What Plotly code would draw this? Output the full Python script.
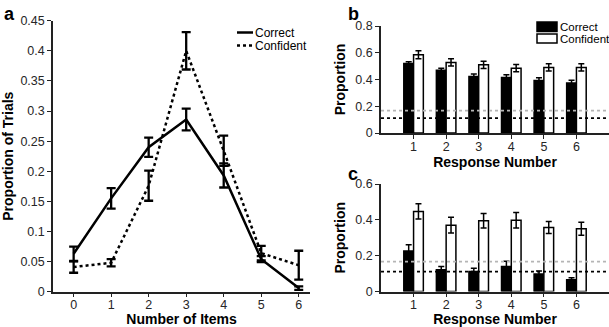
import plotly.graph_objects as go

W, H = 609, 327

# ---- Panel a data ----
n_items = [0, 1, 2, 3, 4, 5, 6]
a_correct = [0.063, 0.155, 0.240, 0.286, 0.193, 0.054, 0.006]
a_correct_err = [0.012, 0.017, 0.016, 0.018, 0.020, 0.005, 0.003]
a_confident = [0.041, 0.048, 0.176, 0.400, 0.234, 0.064, 0.044]
a_confident_err = [0.0095, 0.006, 0.025, 0.031, 0.025, 0.012, 0.024]
a_yticks = [0, 0.05, 0.1, 0.15, 0.2, 0.25, 0.3, 0.35, 0.4, 0.45]
a_yticklabels = ["0", "0.05", "0.1", "0.15", "0.2", "0.25", "0.3", "0.35", "0.4", "0.45"]

# ---- Panel b data ----
resp_num = [1, 2, 3, 4, 5, 6]
b_correct = [0.520, 0.470, 0.422, 0.415, 0.393, 0.374]
b_correct_err = [0.013, 0.014, 0.020, 0.020, 0.020, 0.020]
b_confident = [0.585, 0.528, 0.510, 0.485, 0.490, 0.490]
b_confident_err = [0.030, 0.028, 0.027, 0.027, 0.027, 0.027]
b_yticks = [0, 0.2, 0.4, 0.6, 0.8]
b_yticklabels = ["0", "0.2", "0.4", "0.6", "0.8"]

# ---- Panel c data ----
c_correct = [0.226, 0.121, 0.112, 0.139, 0.098, 0.065]
c_correct_err = [0.035, 0.019, 0.018, 0.030, 0.016, 0.012]
c_confident = [0.447, 0.370, 0.395, 0.398, 0.357, 0.350]
c_confident_err = [0.043, 0.044, 0.040, 0.043, 0.033, 0.036]
c_yticks = [0, 0.2, 0.4, 0.6]
c_yticklabels = ["0", "0.2", "0.4", "0.6"]

# chance levels (dotted reference lines)
chance_gray = 1 / 6
chance_black = 1 / 9

FONT = "Liberation Sans, Arial, sans-serif"
TICKC = "#262626"


def px(x):
    return x / W


def py(y):
    return 1 - y / H


fig = go.Figure()

# Panel a
fig.add_trace(go.Scatter(
    x=n_items, y=a_correct, mode="lines", xaxis="x", yaxis="y",
    line=dict(color="black", width=2.5),
    error_y=dict(type="data", array=a_correct_err, color="black", thickness=2.3, width=4.5),
    showlegend=False))
fig.add_trace(go.Scatter(
    x=n_items, y=a_confident, mode="lines", xaxis="x", yaxis="y",
    line=dict(color="black", width=2.5, dash="dot"),
    error_y=dict(type="data", array=a_confident_err, color="black", thickness=2.3, width=4.5),
    showlegend=False))

# Panel b
fig.add_trace(go.Bar(
    x=resp_num, y=b_correct, xaxis="x2", yaxis="y2",
    marker=dict(color="black", line=dict(color="black", width=1.5)),
    error_y=dict(type="data", array=b_correct_err, color="black", thickness=1.5, width=3),
    showlegend=False))
fig.add_trace(go.Bar(
    x=resp_num, y=b_confident, xaxis="x2", yaxis="y2",
    marker=dict(color="white", line=dict(color="black", width=1.5)),
    error_y=dict(type="data", array=b_confident_err, color="black", thickness=1.5, width=3),
    showlegend=False))

# Panel c
fig.add_trace(go.Bar(
    x=resp_num, y=c_correct, xaxis="x3", yaxis="y3",
    marker=dict(color="black", line=dict(color="black", width=1.5)),
    error_y=dict(type="data", array=c_correct_err, color="black", thickness=1.5, width=3),
    showlegend=False))
fig.add_trace(go.Bar(
    x=resp_num, y=c_confident, xaxis="x3", yaxis="y3",
    marker=dict(color="white", line=dict(color="black", width=1.5)),
    error_y=dict(type="data", array=c_confident_err, color="black", thickness=1.5, width=3),
    showlegend=False))

axis_common = dict(
    showline=True, linecolor="#222", linewidth=1.5, ticks="outside", ticklen=4,
    tickwidth=1.2, tickcolor="#222", showgrid=False, zeroline=False, automargin=False,
    tickfont=dict(family=FONT, size=12.5, color=TICKC),
)
xaxis_extra = dict(ticklabelstandoff=-3)
title_font = dict(family=FONT, size=14, color="black", weight="bold")

shapes = []
for ax in ["x2", "x3"]:
    yax = "y2" if ax == "x2" else "y3"
    shapes.append(dict(type="line", xref=ax, yref=yax, x0=0, x1=7, y0=chance_gray, y1=chance_gray,
                       line=dict(color="#b5b5b5", width=1.8, dash="dot")))
    shapes.append(dict(type="line", xref=ax, yref=yax, x0=0, x1=7, y0=chance_black, y1=chance_black,
                       line=dict(color="black", width=1.8, dash="dot")))

# legend for panel a (drawn manually)
shapes.append(dict(type="line", xref="paper", yref="paper", x0=px(237), x1=px(253), y0=py(32.5), y1=py(32.5),
                   line=dict(color="black", width=2.5)))
shapes.append(dict(type="line", xref="paper", yref="paper", x0=px(237), x1=px(253), y0=py(45.5), y1=py(45.5),
                   line=dict(color="black", width=2.5, dash="dot")))
# legend for panel b
shapes.append(dict(type="rect", xref="paper", yref="paper", x0=px(537), x1=px(557), y0=py(31.5), y1=py(22),
                   fillcolor="black", line=dict(color="black", width=1.5)))
shapes.append(dict(type="rect", xref="paper", yref="paper", x0=px(537), x1=px(557), y0=py(43), y1=py(34),
                   fillcolor="white", line=dict(color="black", width=1.5)))

annotations = [
    dict(text="<b>a</b>", x=px(2), y=py(2), xref="paper", yref="paper", xanchor="left", yanchor="top",
         showarrow=False, font=dict(family=FONT, size=18, color="black")),
    dict(text="<b>b</b>", x=px(346), y=py(2), xref="paper", yref="paper", xanchor="left", yanchor="top",
         showarrow=False, font=dict(family=FONT, size=18, color="black")),
    dict(text="<b>c</b>", x=px(346), y=py(162), xref="paper", yref="paper", xanchor="left", yanchor="top",
         showarrow=False, font=dict(family=FONT, size=18, color="black")),
    dict(text="Correct", x=px(253), y=py(32.5), xref="paper", yref="paper", xanchor="left", yanchor="middle",
         showarrow=False, font=dict(family=FONT, size=12, color="black")),
    dict(text="Confident", x=px(253), y=py(45.5), xref="paper", yref="paper", xanchor="left", yanchor="middle",
         showarrow=False, font=dict(family=FONT, size=12, color="black")),
    dict(text="Correct", x=px(558), y=py(26.5), xref="paper", yref="paper", xanchor="left", yanchor="middle",
         showarrow=False, font=dict(family=FONT, size=11.5, color="black")),
    dict(text="Confident", x=px(558), y=py(38.5), xref="paper", yref="paper", xanchor="left", yanchor="middle",
         showarrow=False, font=dict(family=FONT, size=11.5, color="black")),
]

fig.update_layout(
    width=W, height=H, margin=dict(l=0, r=0, t=0, b=0, autoexpand=False),
    paper_bgcolor="white", plot_bgcolor="white",
    barmode="group", bargap=0.4, bargroupgap=0,
    font=dict(family=FONT),
    xaxis=dict(domain=[px(53), px(310)], range=[-0.55, 6.3], anchor="y",
               tickvals=n_items, title=dict(text="Number of Items", font=title_font, standoff=2),
               **axis_common, **xaxis_extra),
    yaxis=dict(domain=[py(291.7), py(20.7)], range=[0, 0.45], anchor="x",
               tickvals=a_yticks, ticktext=a_yticklabels,
               title=dict(text="Proportion of Trials", font=title_font, standoff=6),
               **axis_common),
    xaxis2=dict(domain=[px(381), px(609)], range=[0, 7], anchor="y2",
                tickvals=resp_num, title=dict(text="Response Number", font=title_font, standoff=2),
                **axis_common, **xaxis_extra),
    yaxis2=dict(domain=[py(133), py(26)], range=[0, 0.8], anchor="x2",
                tickvals=b_yticks, ticktext=b_yticklabels,
                title=dict(text="Proportion", font=title_font, standoff=6),
                **axis_common),
    xaxis3=dict(domain=[px(381), px(609)], range=[0, 7], anchor="y3",
                tickvals=resp_num, title=dict(text="Response Number", font=title_font, standoff=2),
                **axis_common, **xaxis_extra),
    yaxis3=dict(domain=[py(291.5), py(184)], range=[0, 0.6], anchor="x3",
                tickvals=c_yticks, ticktext=c_yticklabels,
                title=dict(text="Proportion", font=title_font, standoff=6),
                **axis_common),
    shapes=shapes,
    annotations=annotations,
)

fig.write_html(
    "out.html",
    config={"displayModeBar": False},
    post_script="document.body.style.margin='0';document.body.style.padding='0';"
                "document.body.style.overflow='hidden';",
)
